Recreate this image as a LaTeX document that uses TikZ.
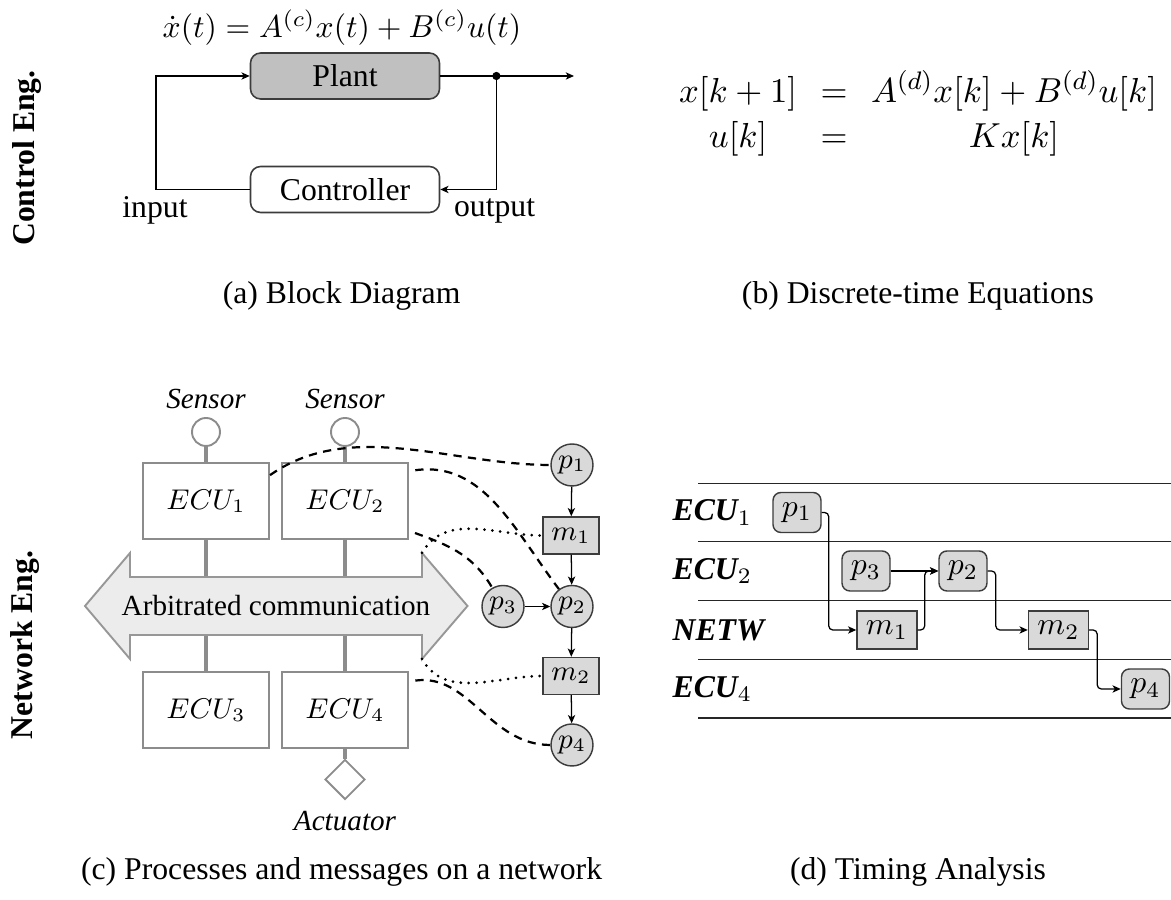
\documentclass[tikz,border=0pt]{standalone}
\usepackage[no-math]{fontspec}
\setmainfont{Liberation Serif}
\usetikzlibrary{arrows.meta,shapes.geometric}

% one drawing unit = one pixel of the final figure
\def\px{0.3155pt}
\newcommand\netsize{\fontsize{9.2}{11}\selectfont}
\newcommand\eqsize{\fontsize{11.3}{14.2}\selectfont}

\definecolor{ecugray}{RGB}{140,140,140}
\definecolor{busfill}{RGB}{236,236,236}
\definecolor{nodefill}{RGB}{217,217,217}
\definecolor{plantfill}{RGB}{192,192,192}
\definecolor{edgegray}{RGB}{60,60,60}

\begin{document}
\begin{tikzpicture}[x=\px,y=-\px,
  arr/.style={-{Stealth[length=2.6pt,width=2.3pt,inset=0.7pt]}},
  wire/.style={draw=black, line width=0.4pt},
  blockbox/.style={draw=edgegray, line width=0.5pt, rounded corners=3.2pt,
    minimum width={189*\px}, minimum height={46*\px}, inner sep=0pt},
  sidelabel/.style={rotate=90, font=\bfseries},
  caption/.style={anchor=base},
  ecubox/.style={draw=ecugray, line width=0.65pt, fill=white, font=\netsize,
    minimum width={126*\px}, minimum height={76*\px}, inner sep=0pt},
  sensor/.style={circle, draw=ecugray, line width=0.6pt, fill=white,
    minimum size={28*\px}, inner sep=0pt},
  actuator/.style={diamond, draw=ecugray, line width=0.6pt, fill=white,
    minimum size={40*\px}, inner sep=0pt},
  iolabel/.style={font=\netsize\itshape},
  graylink/.style={draw=ecugray, line width=0.95pt},
  busstyle/.style={draw=ecugray!90, line width=0.6pt, fill=busfill},
  proc/.style={circle, draw=edgegray, line width=0.45pt, fill=nodefill,
    minimum size={42*\px}, inner sep=0pt, font=\netsize},
  msg/.style={rectangle, draw=edgegray, line width=0.45pt, fill=nodefill,
    minimum width={56*\px}, minimum height={37*\px}, inner sep=0pt, font=\netsize},
  flow/.style={wire, arr},
  dashcurve/.style={draw=black, line width=0.7pt, dash pattern=on 2.6pt off 2pt},
  dotcurve/.style={draw=black, line width=0.95pt, line cap=round, dash pattern=on 0pt off 2.5pt},
  lane/.style={draw=black!85, line width=0.4pt},
  rowlabel/.style={anchor=west, inner sep=0pt},
  tproc/.style={draw=edgegray, line width=0.45pt, fill=nodefill, rounded corners=2.5pt,
    minimum width={48*\px}, minimum height={40*\px}, inner sep=0pt},
  tmsg/.style={draw=edgegray, line width=0.45pt, fill=nodefill,
    minimum width={60*\px}, minimum height={38*\px}, inner sep=0pt},
  tlink/.style={wire, arr, rounded corners=1.3pt}
]
\useasboundingbox (0,0) rectangle (1171,900);

% ---------- side labels ----------
\node[sidelabel] (ctrleng) at (27,158) {Control Eng.};
\node[sidelabel] (neteng) at (25,645) {Network Eng.};

% ---------- (a) block diagram ----------
\node (eqa) at (342,27.5) {$\dot x(t) = A^{(c)}x(t) + B^{(c)}u(t)$};
\node[blockbox, fill=plantfill] (plant) at (345,76) {Plant};
\node[blockbox, fill=white] (ctrl) at (345,189.5) {Controller};
\coordinate (tap) at (496.4,76);
\coordinate (yout) at (574,76);
\coordinate (uin) at (156,76);
\draw[wire] (plant.east) -- (tap);
\draw[flow] (tap) -- (yout);
\draw[flow] (tap) |- (ctrl.east);
\draw[flow] (ctrl.west) -| (uin) -- (plant.west);
\fill (tap) circle[radius=1.3pt];
\node[anchor=base] (inlbl) at (155,218) {input};
\node[anchor=base] (outlbl) at (494.6,217) {output};
\node[caption] (capa) at (341.6,304) {(a) Block Diagram};

% ---------- (b) discrete-time equations ----------
\node (eqb) at (918,115.8) {\eqsize\setlength{\arraycolsep}{3.7pt}$\begin{array}{ccc}
  x[k+1] & = & A^{(d)}x[k] + B^{(d)}u[k]\\
  u[k] & = & Kx[k]
\end{array}$};
\node[caption] (capb) at (918,304) {(b) Discrete-time Equations};

% ---------- (c) processes and messages on a network ----------
\node[ecubox] (e1) at (206,501) {$ECU_1$};
\node[ecubox] (e2) at (345,501) {$ECU_2$};
\node[ecubox] (e3) at (206,710) {$ECU_3$};
\node[ecubox] (e4) at (345,710) {$ECU_4$};
\node[sensor] (s1) at (206,432) {};
\node[sensor] (s2) at (345,432) {};
\node[actuator] (act) at (345,779.5) {};
\node[iolabel] (s1lbl) at (206,399) {Sensor};
\node[iolabel] (s2lbl) at (345,399) {Sensor};
\node[iolabel] (actlbl) at (345,821) {Actuator};

\draw[graylink] (s1.south) -- (e1.north);
\draw[graylink] (s2.south) -- (e2.north);
\draw[graylink] (e1.south) -- (e3.north);
\draw[graylink] (e2.south) -- (e4.north);
\draw[graylink] (e4.south) -- (act.north);

% shared bus drawn as a double-headed arrow
\coordinate (busL) at (85,606);
\coordinate (busR) at (467.5,606);
\coordinate (hdTL) at (130,553);
\coordinate (hdBL) at (130,659);
\coordinate (hdTR) at (422,553);
\coordinate (hdBR) at (422,659);
\draw[busstyle] (busL) -- (hdTL) -- (130,577) -- (422,577) -- (hdTR) -- (busR)
  -- (hdBR) -- (422,635) -- (130,635) -- (hdBL) -- cycle;
\node[font=\netsize] (bus) at (276,606) {Arbitrated communication};

% process / message chain
\node[proc] (p1) at (572,465) {$p_1$};
\node[msg]  (m1) at (571,535.5) {$m_1$};
\node[proc] (p2) at (572,606.5) {$p_2$};
\node[proc] (p3) at (503,606.5) {$p_3$};
\node[msg]  (m2) at (571,676) {$m_2$};
\node[proc] (p4) at (572,745) {$p_4$};
\draw[flow] (p1) -- (m1);
\draw[flow] (m1) -- (p2);
\draw[flow] (p3) -- (p2);
\draw[flow] (p2) -- (m2);
\draw[flow] (m2) -- (p4);

% mapping of processes to ECUs and messages to the bus
\draw[dashcurve] (e1.22) to[out=35,in=180,looseness=0.9] (p1.west);
\draw[dashcurve, shorten <=2pt] (e2.25) to[out=8,in=127] (p2.127);
\draw[dashcurve, shorten <=2pt] (e2.-25) to[out=-20,in=120] (p3.120);
\draw[dashcurve, shorten <=2pt] (e4.24) to[out=8,in=180] (p4.west);
\draw[dotcurve] (hdTR) to[out=60,in=180] (m1.west);
\draw[dotcurve] (hdBR) to[out=-60,in=180] (m2.west);

\node[caption] (capc) at (341.6,880) {(c) Processes and messages on a network};

% ---------- (d) timing analysis ----------
\foreach \ly in {483.3,541.7,600.7,659.3,718}
  \draw[lane] (698,\ly) -- (1171,\ly);
\node[rowlabel] (r1) at (672,512.5) {{\bfseries\itshape ECU}$_1$};
\node[rowlabel] (r2) at (672,571) {{\bfseries\itshape ECU}$_2$};
\node[rowlabel] (r3) at (672,630) {{\bfseries\itshape NETW}};
\node[rowlabel] (r4) at (672,689) {{\bfseries\itshape ECU}$_4$};

\node[tproc] (tp1) at (797,512.5) {$p_1$};
\node[tproc] (tp3) at (866,571) {$p_3$};
\node[tproc] (tp2) at (963,571) {$p_2$};
\node[tmsg]  (tm1) at (887,630) {$m_1$};
\node[tmsg]  (tm2) at (1058.5,630) {$m_2$};
\node[tproc] (tp4) at (1145.5,689) {$p_4$};

\draw[tlink] (tp1.east) -- ++(7,0) |- (tm1.west);
\draw[tlink] (tm1.east) -- ++(7,0) |- (tp2.west);
\draw[tlink] (tp3.east) -- (tp2.west);
\draw[tlink] (tp2.east) -- ++(8,0) |- (tm2.west);
\draw[tlink] (tm2.east) -- ++(8,0) |- (tp4.west);

\node[caption] (capd) at (918,880) {(d) Timing Analysis};
\end{tikzpicture}
\end{document}
